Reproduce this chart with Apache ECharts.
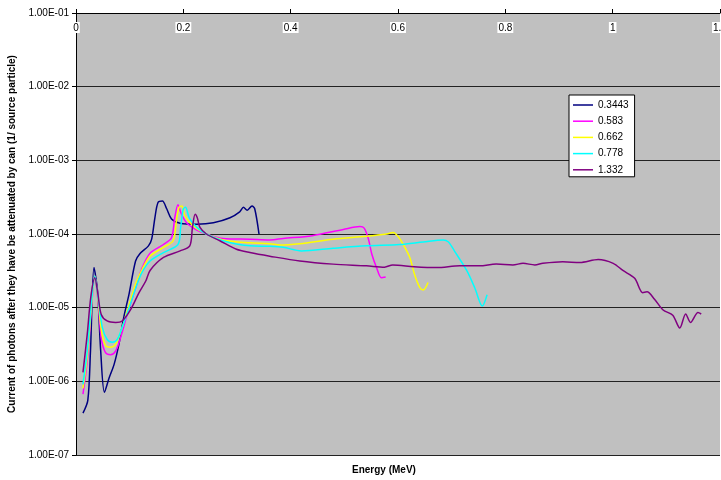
<!DOCTYPE html>
<html>
<head>
<meta charset="utf-8">
<script src="https://cdn.jsdelivr.net/npm/echarts@6/dist/echarts.min.js"></script>
<style>
  html, body { margin: 0; padding: 0; background: #fff; }
  #chart { width: 721px; height: 480px; }
</style>
</head>
<body>
<div id="chart"></div>
<script>
  // energies (MeV) and currents, one pair of arrays per source energy
  let e3443 = [0.013, 0.022, 0.027, 0.0335, 0.040, 0.046, 0.053, 0.0615, 0.071, 0.080, 0.089, 0.099, 0.111, 0.119, 0.135, 0.141, 0.147, 0.153, 0.161, 0.169, 0.178, 0.194, 0.225, 0.256, 0.287, 0.305, 0.312, 0.319, 0.328, 0.333, 0.341]
  let v3443 = [3.7e-7, 5.5e-7, 2.6e-6, 3.5e-5, 1.7e-5, 2.6e-6, 7.1e-7, 1.1e-6, 1.7e-6, 3.2e-6, 7.4e-6, 1.55e-5, 4.3e-5, 5.4e-5, 6.9e-5, 8.5e-5, 1.66e-4, 2.7e-4, 2.8e-4, 2.2e-4, 1.6e-4, 1.4e-4, 1.36e-4, 1.42e-4, 1.66e-4, 2.0e-4, 2.3e-4, 2.1e-4, 2.4e-4, 2.2e-4, 1.0e-4]

  let e583 = [0.013, 0.021, 0.0285, 0.035, 0.041, 0.047, 0.055, 0.0645, 0.074, 0.083, 0.0955, 0.111, 0.122, 0.138, 0.163, 0.178, 0.184, 0.190, 0.196, 0.206, 0.225, 0.243, 0.274, 0.324, 0.361, 0.386, 0.440, 0.498, 0.529, 0.537, 0.545, 0.551, 0.560, 0.569, 0.577]
  let v583 = [6.7e-7, 1.9e-6, 9.1e-6, 2.7e-5, 1.23e-5, 3.9e-6, 2.45e-6, 2.3e-6, 2.6e-6, 3.9e-6, 8.1e-6, 1.85e-5, 3.3e-5, 5.5e-5, 7.2e-5, 8.9e-5, 1.66e-4, 2.5e-4, 1.9e-4, 1.42e-4, 1.13e-4, 1.0e-4, 8.7e-5, 8.5e-5, 8.3e-5, 8.7e-5, 9.5e-5, 1.15e-4, 1.26e-4, 1.2e-4, 8.5e-5, 5.4e-5, 3.5e-5, 2.55e-5, 2.6e-5]

  let e662 = [0.013, 0.021, 0.0285, 0.035, 0.041, 0.048, 0.056, 0.0645, 0.074, 0.083, 0.0955, 0.111, 0.124, 0.138, 0.163, 0.181, 0.187, 0.192, 0.197, 0.203, 0.215, 0.237, 0.274, 0.324, 0.361, 0.380, 0.417, 0.479, 0.541, 0.579, 0.591, 0.600, 0.610, 0.622, 0.631, 0.641, 0.647, 0.656]
  let v662 = [8.0e-7, 2.2e-6, 1.0e-5, 2.7e-5, 1.3e-5, 4.5e-6, 3.0e-6, 2.9e-6, 3.2e-6, 4.6e-6, 9.0e-6, 2.1e-5, 3.4e-5, 5.0e-5, 6.6e-5, 8.1e-5, 1.5e-4, 2.3e-4, 2.4e-4, 1.77e-4, 1.36e-4, 1.05e-4, 8.3e-5, 7.6e-5, 7.4e-5, 7.1e-5, 7.4e-5, 8.5e-5, 9.3e-5, 1.0e-4, 1.05e-4, 9.3e-5, 7.2e-5, 4.8e-5, 2.8e-5, 1.85e-5, 1.74e-5, 2.2e-5]

  let e778 = [0.013, 0.021, 0.0285, 0.035, 0.041, 0.049, 0.058, 0.0675, 0.077, 0.086, 0.099, 0.114, 0.124, 0.138, 0.163, 0.190, 0.195, 0.200, 0.204, 0.211, 0.225, 0.243, 0.274, 0.324, 0.361, 0.386, 0.420, 0.479, 0.541, 0.603, 0.647, 0.684, 0.694, 0.705, 0.728, 0.743, 0.757, 0.766]
  let v778 = [9.1e-7, 2.6e-6, 1.1e-5, 2.7e-5, 1.38e-5, 5.4e-6, 3.7e-6, 3.4e-6, 3.7e-6, 5.4e-6, 1.0e-5, 2.1e-5, 3.1e-5, 4.3e-5, 5.6e-5, 7.2e-5, 1.23e-4, 2.2e-4, 2.3e-4, 1.66e-4, 1.23e-4, 1.0e-4, 8.1e-5, 6.9e-5, 6.8e-5, 6.6e-5, 5.9e-5, 6.4e-5, 6.9e-5, 7.2e-5, 7.8e-5, 8.3e-5, 7.8e-5, 5.9e-5, 3.2e-5, 1.86e-5, 1.05e-5, 1.5e-5]

  let e1332 = [0.013, 0.021, 0.0275, 0.035, 0.041, 0.047, 0.058, 0.074, 0.086, 0.102, 0.117, 0.130, 0.138, 0.163, 0.194, 0.212, 0.217, 0.222, 0.226, 0.231, 0.243, 0.268, 0.299, 0.324, 0.361, 0.417, 0.479, 0.541, 0.575, 0.590, 0.630, 0.672, 0.715, 0.752, 0.783, 0.814, 0.833, 0.855, 0.870, 0.907, 0.939, 0.973, 1.001, 1.019, 1.041, 1.056, 1.064, 1.078, 1.094, 1.112, 1.125, 1.136, 1.145, 1.159, 1.165]
  let v1332 = [1.32e-6, 4.4e-6, 1.38e-5, 2.55e-5, 1.5e-5, 8.1e-6, 6.6e-6, 6.3e-6, 6.6e-6, 9.5e-6, 1.58e-5, 2.3e-5, 3.2e-5, 4.8e-5, 5.9e-5, 6.9e-5, 1.23e-4, 1.85e-4, 1.66e-4, 1.23e-4, 1.0e-4, 8.1e-5, 6.2e-5, 5.6e-5, 5.0e-5, 4.3e-5, 3.9e-5, 3.7e-5, 3.55e-5, 3.8e-5, 3.6e-5, 3.5e-5, 3.7e-5, 3.7e-5, 3.9e-5, 3.8e-5, 4.0e-5, 3.8e-5, 4.0e-5, 4.2e-5, 4.1e-5, 4.5e-5, 4.0e-5, 3.2e-5, 2.5e-5, 1.6e-5, 1.64e-5, 1.3e-5, 9.3e-6, 7.9e-6, 5.3e-6, 8.2e-6, 6.3e-6, 8.6e-6, 8.2e-6]

  let seriesNames = ['0.3443', '0.583', '0.662', '0.778', '1.332']
  let seriesColors = ['#000080', '#FF00FF', '#FFFF00', '#00FFFF', '#800080']
  let xTicks = [0, 0.2, 0.4, 0.6, 0.8, 1, 1.2]
  let yTicks = [1e-7, 1e-6, 1e-5, 1e-4, 1e-3, 1e-2, 1e-1]

  let energies = [e3443, e583, e662, e778, e1332]
  let values = [v3443, v583, v662, v778, v1332]

  const font = 'Liberation Sans, Arial, sans-serif'

  function pairs(xs, ys) {
    return xs.map(function (x, i) { return [x, ys[i]] })
  }

  // 1.00E-04 style labels
  function sciLabel(v) {
    let exp = Math.round(Math.log10(v))
    let sign = exp < 0 ? '-' : '+'
    let n = Math.abs(exp)
    return '1.00E' + sign + (n < 10 ? '0' + n : n)
  }

  let chart = echarts.init(document.getElementById('chart'))

  chart.setOption({
    animation: false,
    backgroundColor: '#ffffff',
    grid: {
      left: 76,
      right: 1,
      top: 13,
      bottom: 25,
      outerBoundsMode: 'none',
      containLabel: false,
      show: true,
      backgroundColor: '#c0c0c0',
      borderWidth: 0
    },
    legend: {
      orient: 'vertical',
      left: 569,
      top: 95,
      padding: [4, 6, 1, 4],
      icon: 'rect',
      itemWidth: 20,
      itemHeight: 1.5,
      itemGap: 4.2,
      backgroundColor: '#ffffff',
      borderColor: '#000000',
      borderWidth: 1,
      borderRadius: 0,
      textStyle: {
        fontFamily: font,
        fontSize: 10,
        lineHeight: 12,
        color: '#000000'
      },
      data: seriesNames
    },
    graphic: [{
      type: 'text',
      left: 352,
      top: 465,
      style: {
        text: 'Energy (MeV)',
        font: 'bold 10px ' + font,
        fill: '#000000'
      }
    }],
    xAxis: {
      type: 'value',
      position: 'top',
      min: xTicks[0],
      max: xTicks[xTicks.length - 1],
      interval: xTicks[1] - xTicks[0],
      axisLine: {
        show: true,
        onZero: false,
        lineStyle: { color: '#000000', width: 1 }
      },
      axisTick: {
        show: true,
        inside: false,
        length: 4,
        lineStyle: { color: '#000000' }
      },
      axisLabel: {
        inside: true,
        margin: 9,
        fontFamily: font,
        fontSize: 10,
        color: '#000000',
        backgroundColor: '#ffffff',
        padding: [1, 1, 0, 1]
      },
      splitLine: { show: false }
    },
    yAxis: {
      type: 'log',
      logBase: 10,
      min: yTicks[0],
      max: yTicks[yTicks.length - 1],
      name: 'Current of photons after they have be attenuated by can (1/ source particle)',
      nameLocation: 'middle',
      nameGap: 57,
      nameTextStyle: {
        fontFamily: font,
        fontSize: 10,
        fontWeight: 'bold',
        color: '#000000'
      },
      axisLine: {
        show: true,
        lineStyle: { color: '#000000', width: 1 }
      },
      axisTick: {
        show: true,
        length: 4,
        lineStyle: { color: '#000000' }
      },
      minorTick: { show: false },
      axisLabel: {
        margin: 7,
        fontFamily: font,
        fontSize: 10,
        color: '#000000',
        formatter: sciLabel
      },
      splitLine: {
        show: true,
        lineStyle: { color: '#222222', width: 1 }
      }
    },
    series: seriesNames.map(function (name, i) {
      return {
        name: name,
        type: 'line',
        symbol: 'none',
        smooth: 0.3,
        lineStyle: { width: 1.5, color: seriesColors[i] },
        itemStyle: { color: seriesColors[i] },
        data: pairs(energies[i], values[i])
      }
    })
  })
</script>
</body>
</html>
